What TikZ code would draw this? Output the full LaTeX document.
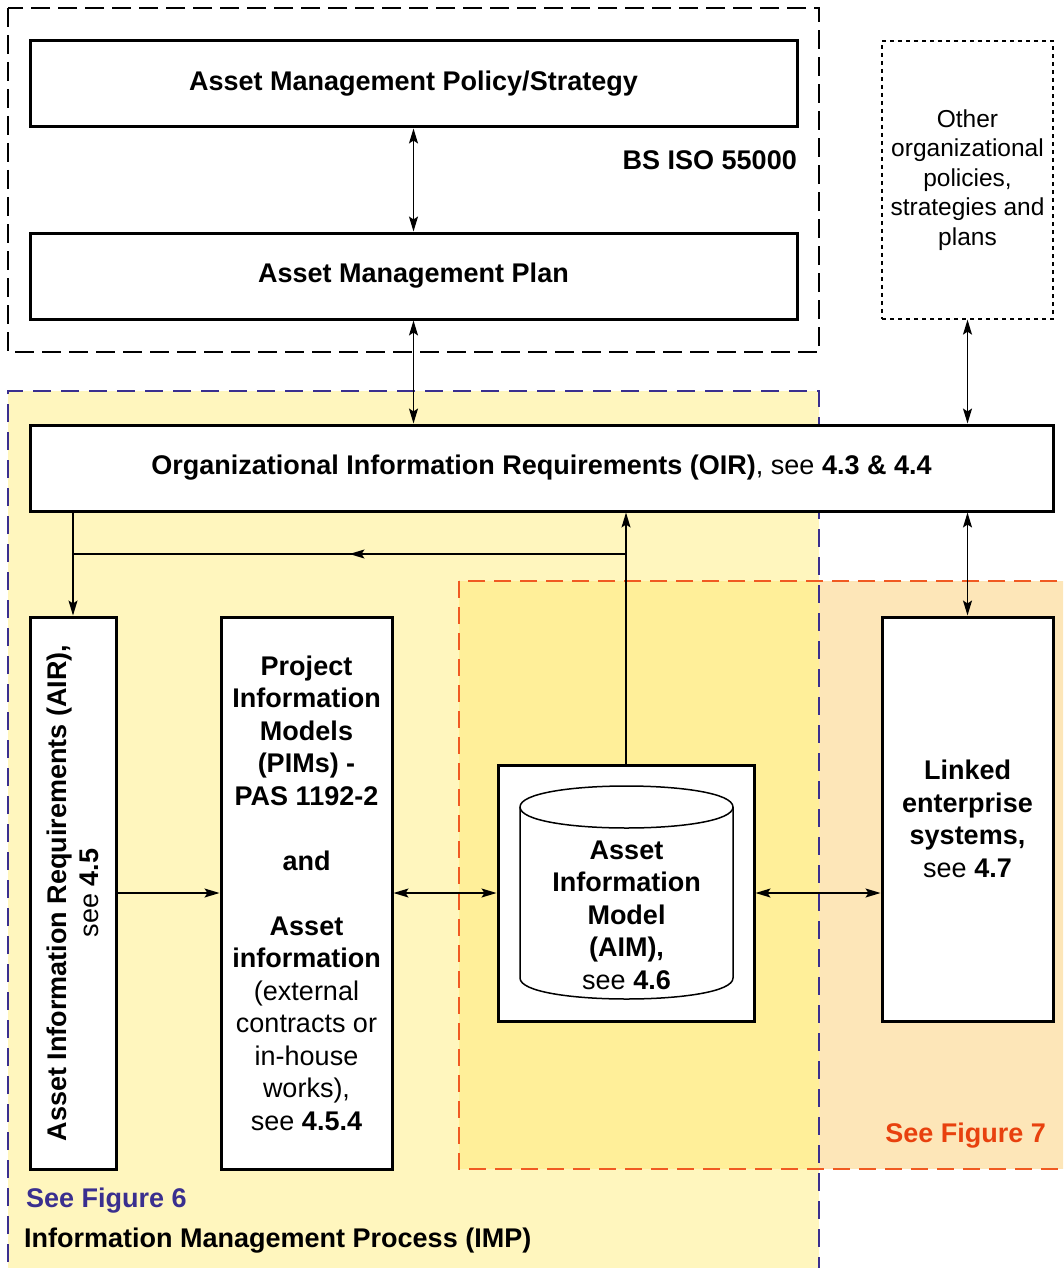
\documentclass[tikz,border=0pt]{standalone}
\usepackage{fontspec}
\setmainfont{Liberation Sans}
\usetikzlibrary{arrows.meta,decorations.markings}
\definecolor{lyel}{HTML}{FFF6BE}
\definecolor{dyel}{HTML}{FFEF99}
\definecolor{peach}{HTML}{FDE6B8}
\definecolor{orline}{HTML}{F05A22}
\definecolor{bluline}{HTML}{3A2F8F}
\definecolor{ortext}{HTML}{E8410E}
\newcommand\myfs{\fontsize{27}{32.5}\selectfont}
\newcommand\otherfs{\fontsize{24.5}{29.5}\selectfont}
\begin{document}
\begin{tikzpicture}[x=1pt,y=-1pt,
  tip/.tip={Stealth[length=15pt,width=9pt,inset=3pt]},
  conn/.style={line width=1.4pt},
  box/.style={draw,line width=3pt,fill=white,inner sep=0pt,align=center,font=\myfs},
  txt/.style={inner sep=0pt,align=center,font=\myfs},
  midarrow/.style={conn,postaction={decorate},decoration={markings,mark=at position 0.5 with {\arrow{tip}}}}]
\useasboundingbox (0,0) rectangle (1063,1268);
\clip (0,0) rectangle (1063,1268);
% background regions
\fill[lyel] (8,391) rectangle (819,1290);
\fill[peach] (459,581) rectangle (1080,1169);
\fill[dyel] (459,581) rectangle (819,1169);
\draw[orline,line width=2.4pt,dash pattern=on 17pt off 9pt] (459,581) rectangle (1080,1169);
\draw[bluline,line width=2.2pt,dash pattern=on 18pt off 10pt] (8,1290) -- (8,391) -- (819,391) -- (819,1290);
\draw[line width=2.2pt,dash pattern=on 19pt off 8pt] (8,8) rectangle (819,352);
% nodes
\node[box,minimum width=767,minimum height=86] (pol) at (413.5,84) {\textbf{Asset Management Policy/Strategy}};
\node[box,minimum width=767,minimum height=86] (plan) at (413.5,276) {\textbf{Asset Management Plan}};
\node[txt,anchor=east] (bsiso) at (797,160) {\textbf{BS ISO 55000}};
\node[draw,line width=1.3pt,dash pattern=on 4pt off 4pt,inner sep=0pt,align=center,font=\otherfs,minimum width=171,minimum height=278] (other) at (967.5,180) {Other\\organizational\\policies,\\strategies and\\plans};
\node[box,minimum width=1023,minimum height=86] (oir) at (541.5,468) {\textbf{Organizational Information Requirements (OIR)}, see \textbf{4.3 \& 4.4}};
\node[box,minimum width=86,minimum height=552] (air) at (73,893) {};
\node[txt,rotate=90] (airtext) at (air.center) {\textbf{Asset Information Requirements (AIR),}\\see \textbf{4.5}};
\node[box,minimum width=171,minimum height=552] (pim) at (306.5,893) {\textbf{Project}\\\textbf{Information}\\\textbf{Models}\\\textbf{(PIMs) -}\\\textbf{PAS 1192-2}\\[32.5pt]\textbf{and}\\[32.5pt]\textbf{Asset}\\\textbf{information}\\(external\\contracts or\\in-house\\works),\\see \textbf{4.5.4}};
\node[box,minimum width=256,minimum height=256] (aim) at (626,893) {};
\draw[line width=1.5pt,fill=white] (520,807) -- (520,978) .. controls (520,1006) and (733,1006) .. (733,978) -- (733,807);
\draw[line width=1.5pt] (520,807) .. controls (520,779) and (733,779) .. (733,807) .. controls (733,835) and (520,835) .. (520,807);
\node[txt] (aimtext) at (626.5,915) {\textbf{Asset}\\\textbf{Information}\\\textbf{Model}\\\textbf{(AIM),}\\see \textbf{4.6}};
\node[box,minimum width=171,minimum height=404] (linked) at (967.5,819) {\textbf{Linked}\\\textbf{enterprise}\\\textbf{systems,}\\see \textbf{4.7}};
\node[txt,anchor=west,text=bluline] (fig6) at (26,1201) {\textbf{See Figure 6}};
\node[txt,anchor=west] (imp) at (24,1241) {\textbf{Information Management Process (IMP)}};
\node[txt,anchor=east,text=ortext] (fig7) at (1046,1136) {\textbf{See Figure 7}};
% connectors
\draw[conn,{tip}-{tip}] (pol.south) -- (plan.north);
\draw[conn,{tip}-{tip}] (plan.south) -- (plan.south |- oir.north);
\draw[conn,{tip}-{tip}] (other.south) -- (other.south |- oir.north);
\draw[conn,{tip}-{tip}] (oir.south -| linked.north) -- (linked.north);
\draw[conn,-{tip}] (oir.south -| air.north) -- (air.north);
\draw[conn,-{tip}] (aim.north) -- (aim.north |- oir.south);
\coordinate (jn) at (626,554);
\coordinate (jw) at (73,554);
\draw[midarrow] (jn) -- (jw);
\draw[conn,-{tip}] (air.east) -- (pim.west);
\draw[conn,{tip}-{tip}] (pim.east) -- (aim.west);
\draw[conn,{tip}-{tip}] (aim.east) -- (aim.east -| linked.west);
\end{tikzpicture}
\end{document}
